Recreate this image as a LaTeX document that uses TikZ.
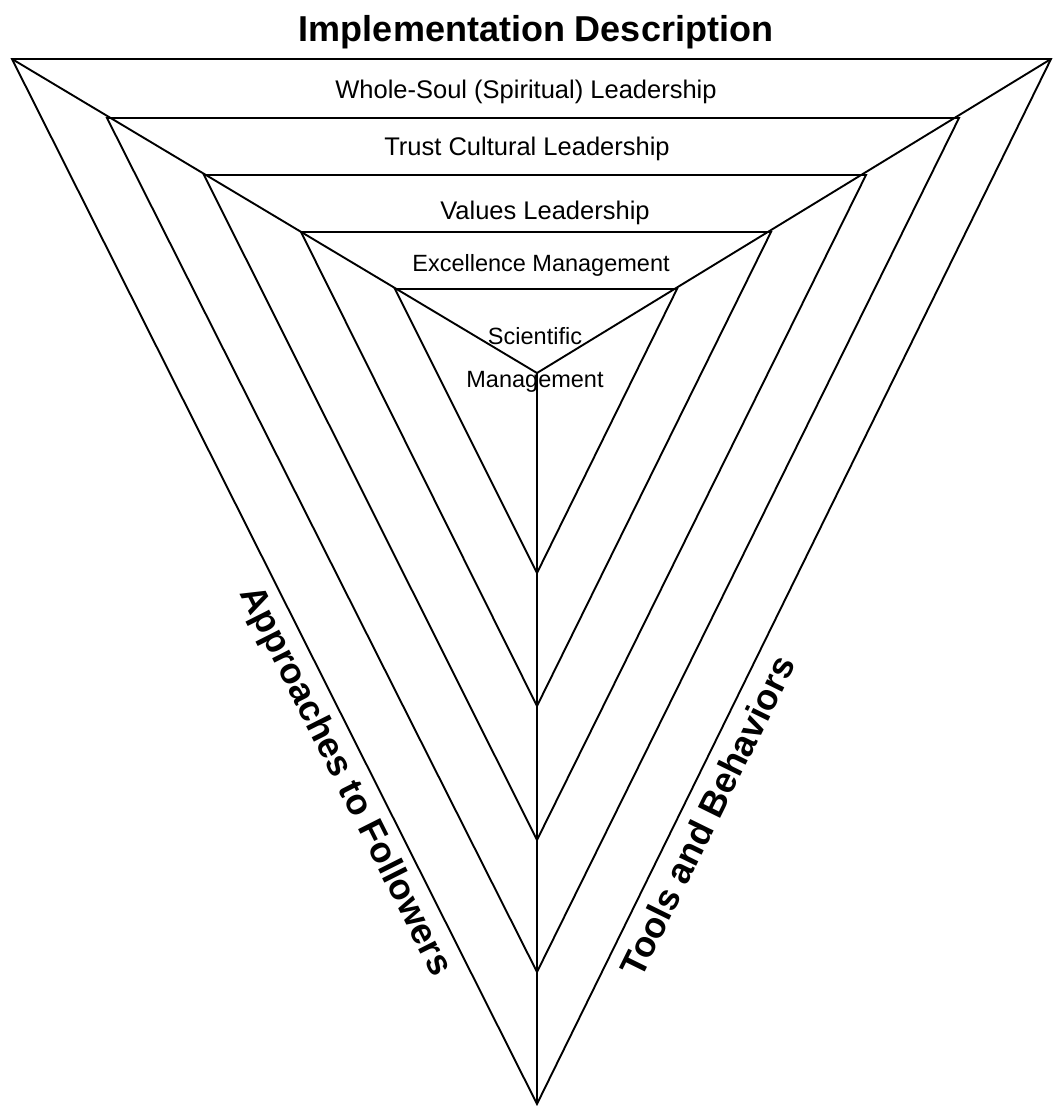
\documentclass[tikz,border=0pt]{standalone}
\usepackage{fontspec}
\setmainfont{Liberation Sans}
\usetikzlibrary{calc}
\begin{document}
\begin{tikzpicture}[x=1pt,y=-1pt,
  edge/.style={line width=1.9pt, line join=miter},
  band/.style={font=\fontsize{25.5}{30}\selectfont, anchor=base, inner sep=0pt},
  core/.style={font=\fontsize{23.5}{28}\selectfont, anchor=base, inner sep=0pt},
  axis/.style={font=\bfseries\fontsize{36}{42}\selectfont, anchor=north, inner sep=0pt}]
\useasboundingbox (0,0) rectangle (1054,1106);

% corners of the five nested triangles (0 = outermost)
\coordinate (L0) at (12,59);   \coordinate (R0) at (1051,59);  \coordinate (B0) at (537,1104);
\coordinate (L1) at (107,118); \coordinate (R1) at (959,118);  \coordinate (B1) at (537,972);
\coordinate (L2) at (204,175); \coordinate (R2) at (866,175);  \coordinate (B2) at (537,840);
\coordinate (L3) at (301,232); \coordinate (R3) at (771,232);  \coordinate (B3) at (537,706);
\coordinate (L4) at (395,289); \coordinate (R4) at (677,289);  \coordinate (B4) at (537,573);
\coordinate (C) at (537,373);

\foreach \k in {0,...,4}
  \draw[edge] (L\k) -- (R\k) -- (B\k) -- cycle;

% the three dividing spokes meeting at the centre
\draw[edge] (L0) -- (C) -- (R0);
\draw[edge] (C) -- (B0);

% title
\node[font=\bfseries\fontsize{36}{42}\selectfont, anchor=base, inner sep=0pt] (title) at (536,41) {Implementation Description};

% band labels
\node[band] (ws) at (526,98) {Whole-Soul (Spiritual) Leadership};
\node[band] (tc) at (527,155) {Trust Cultural Leadership};
\node[band] (vl) at (545,219) {Values Leadership};
\node[core] (em) at (541,271) {Excellence Management};
\node[core] (sc) at (535,344) {Scientific};
\node[core] (sm) at (535,387) {Management};

% side labels
\node[axis, rotate=-63.3] (af) at (360,774) {Approaches to Followers};
\node[axis, rotate=63.8] (tb) at (695,810) {Tools and Behaviors};
\end{tikzpicture}
\end{document}
